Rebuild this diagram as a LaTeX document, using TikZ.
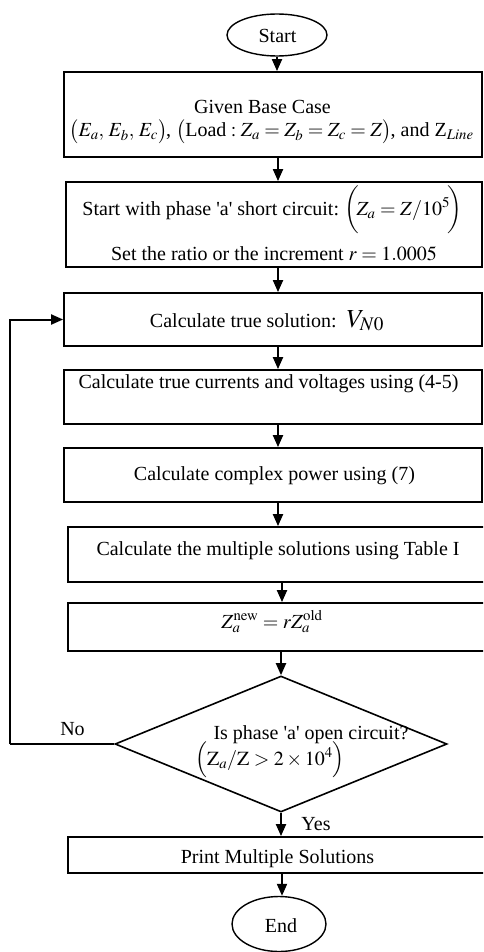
\documentclass[tikz,border=0pt]{standalone}
\usepackage{mathptmx}
\usepackage{fontspec}
\setmainfont{Liberation Serif}
\usetikzlibrary{shapes.geometric,arrows.meta}
\begin{document}
\begin{tikzpicture}[x=1pt,y=-1pt,
  boxs/.style={draw,line width=1.8pt,rectangle,inner sep=0pt},
  term/.style={draw,line width=1.4pt,ellipse,inner sep=0pt},
  txt/.style={anchor=base,inner sep=0pt,font=\fontsize{20}{24}\selectfont},
  arr/.style={line width=2pt,-{Triangle[length=12pt,width=10pt]}},
  lin/.style={line width=2pt}]
\useasboundingbox (0,0) rectangle (483,952);
\clip (0,0) rectangle (483,952);
% terminals
\node[term,minimum width=100pt,minimum height=42pt] (start) at (277,35) {};
\node[txt] (tstart) at (277.5,43) {Start};
\node[term,minimum width=94pt,minimum height=55pt] (end) at (279,924) {};
\node[txt] (tend) at (281,932) {End};
% boxes
\node[boxs,minimum width=418pt,minimum height=85pt] (b1) at (273,114.5) {};
\node[txt] (t1a) at (262.5,114) {Given Base Case};
\node[txt] (t1b) at (271.5,137) {$\bigl(E_a,\,E_b,\,E_c\bigr)$\kern-1pt, $\bigl(\mbox{Load}: Z_a = Z_b = Z_c = Z\bigr)$\kern-1pt, and Z$_{\mathit{Line}}$};
\node[boxs,minimum width=416pt,minimum height=85pt] (b2) at (274,224.5) {};
\node[txt] (t2a) at (272.5,215) {Start with phase \textquotesingle a\textquotesingle\ short circuit:\ $\biggl(\!Z_a = Z/10^5\!\biggr)$};
\node[txt] (t2b) at (274,260) {Set the ratio or the increment $r = 1.0005$};
\node[boxs,minimum width=418pt,minimum height=53pt] (b3) at (273,319.5) {};
\node[txt] (t3) at (267,327) {Calculate true solution:\ \ {\fontsize{26}{28}\selectfont$V_{N0}$}};
\node[boxs,minimum width=418pt,minimum height=54pt] (b4) at (273,397) {};
\node[txt] (t4) at (268.5,388) {Calculate true currents and voltages using (4-5)};
\node[boxs,minimum width=418pt,minimum height=54pt] (b5) at (273,475) {};
\node[txt] (t5) at (274.5,480) {Calculate complex power using (7)};
\node[boxs,minimum width=432pt,minimum height=55pt] (b6) at (284,554.5) {};
\node[txt] (t6) at (278,555) {Calculate the multiple solutions using Table I};
\node[boxs,minimum width=432pt,minimum height=48pt] (b7) at (284,627) {};
\node[txt] (t7) at (272,628) {$Z_a^{\mathrm{new}} = rZ_a^{\mathrm{old}}$};
\node[draw,line width=1.6pt,diamond,minimum width=332pt,minimum height=136pt,inner sep=0pt] (dia) at (281,744) {};
\node[txt] (td1) at (311,739) {Is phase \textquotesingle a\textquotesingle\ open circuit?};
\node[txt] (td2) at (270,765) {$\Bigl(\mathrm{Z}_a/\mathrm{Z} > 2\times10^4\Bigr)$};
\node[boxs,minimum width=432pt,minimum height=36pt] (b8) at (284,855) {};
\node[txt] (t8) at (277.5,863) {Print Multiple Solutions};
% labels
\node[txt] (no) at (72.5,735) {No};
\node[txt] (yes) at (316,830) {Yes};
% connectors
\coordinate (axA) at (278,0);
\coordinate (axB) at (282,0);
\coordinate (lp) at (10,744);
\draw[arr] (start.south) -- (b1.north -| start.south);
\draw[arr] (b1.south -| axA) -- (b2.north -| axA);
\draw[arr] (b2.south -| axA) -- (b3.north -| axA);
\draw[arr] (b3.south -| axA) -- (b4.north -| axA);
\draw[arr] (b4.south -| axA) -- (b5.north -| axA);
\draw[arr] (b5.south -| axA) -- (b6.north -| axA);
\draw[arr] (b6.south -| axB) -- (b7.north -| axB);
\draw[arr] (b7.south -| dia.north) -- (dia.north);
\draw[arr] (dia.south) -- (b8.north -| dia.south);
\draw[arr] (b8.south -| axB) -- (end.north -| axB);
\draw[lin] (dia.west) -- (lp);
\draw[arr] (lp) |- (b3.west);
\end{tikzpicture}
\end{document}
